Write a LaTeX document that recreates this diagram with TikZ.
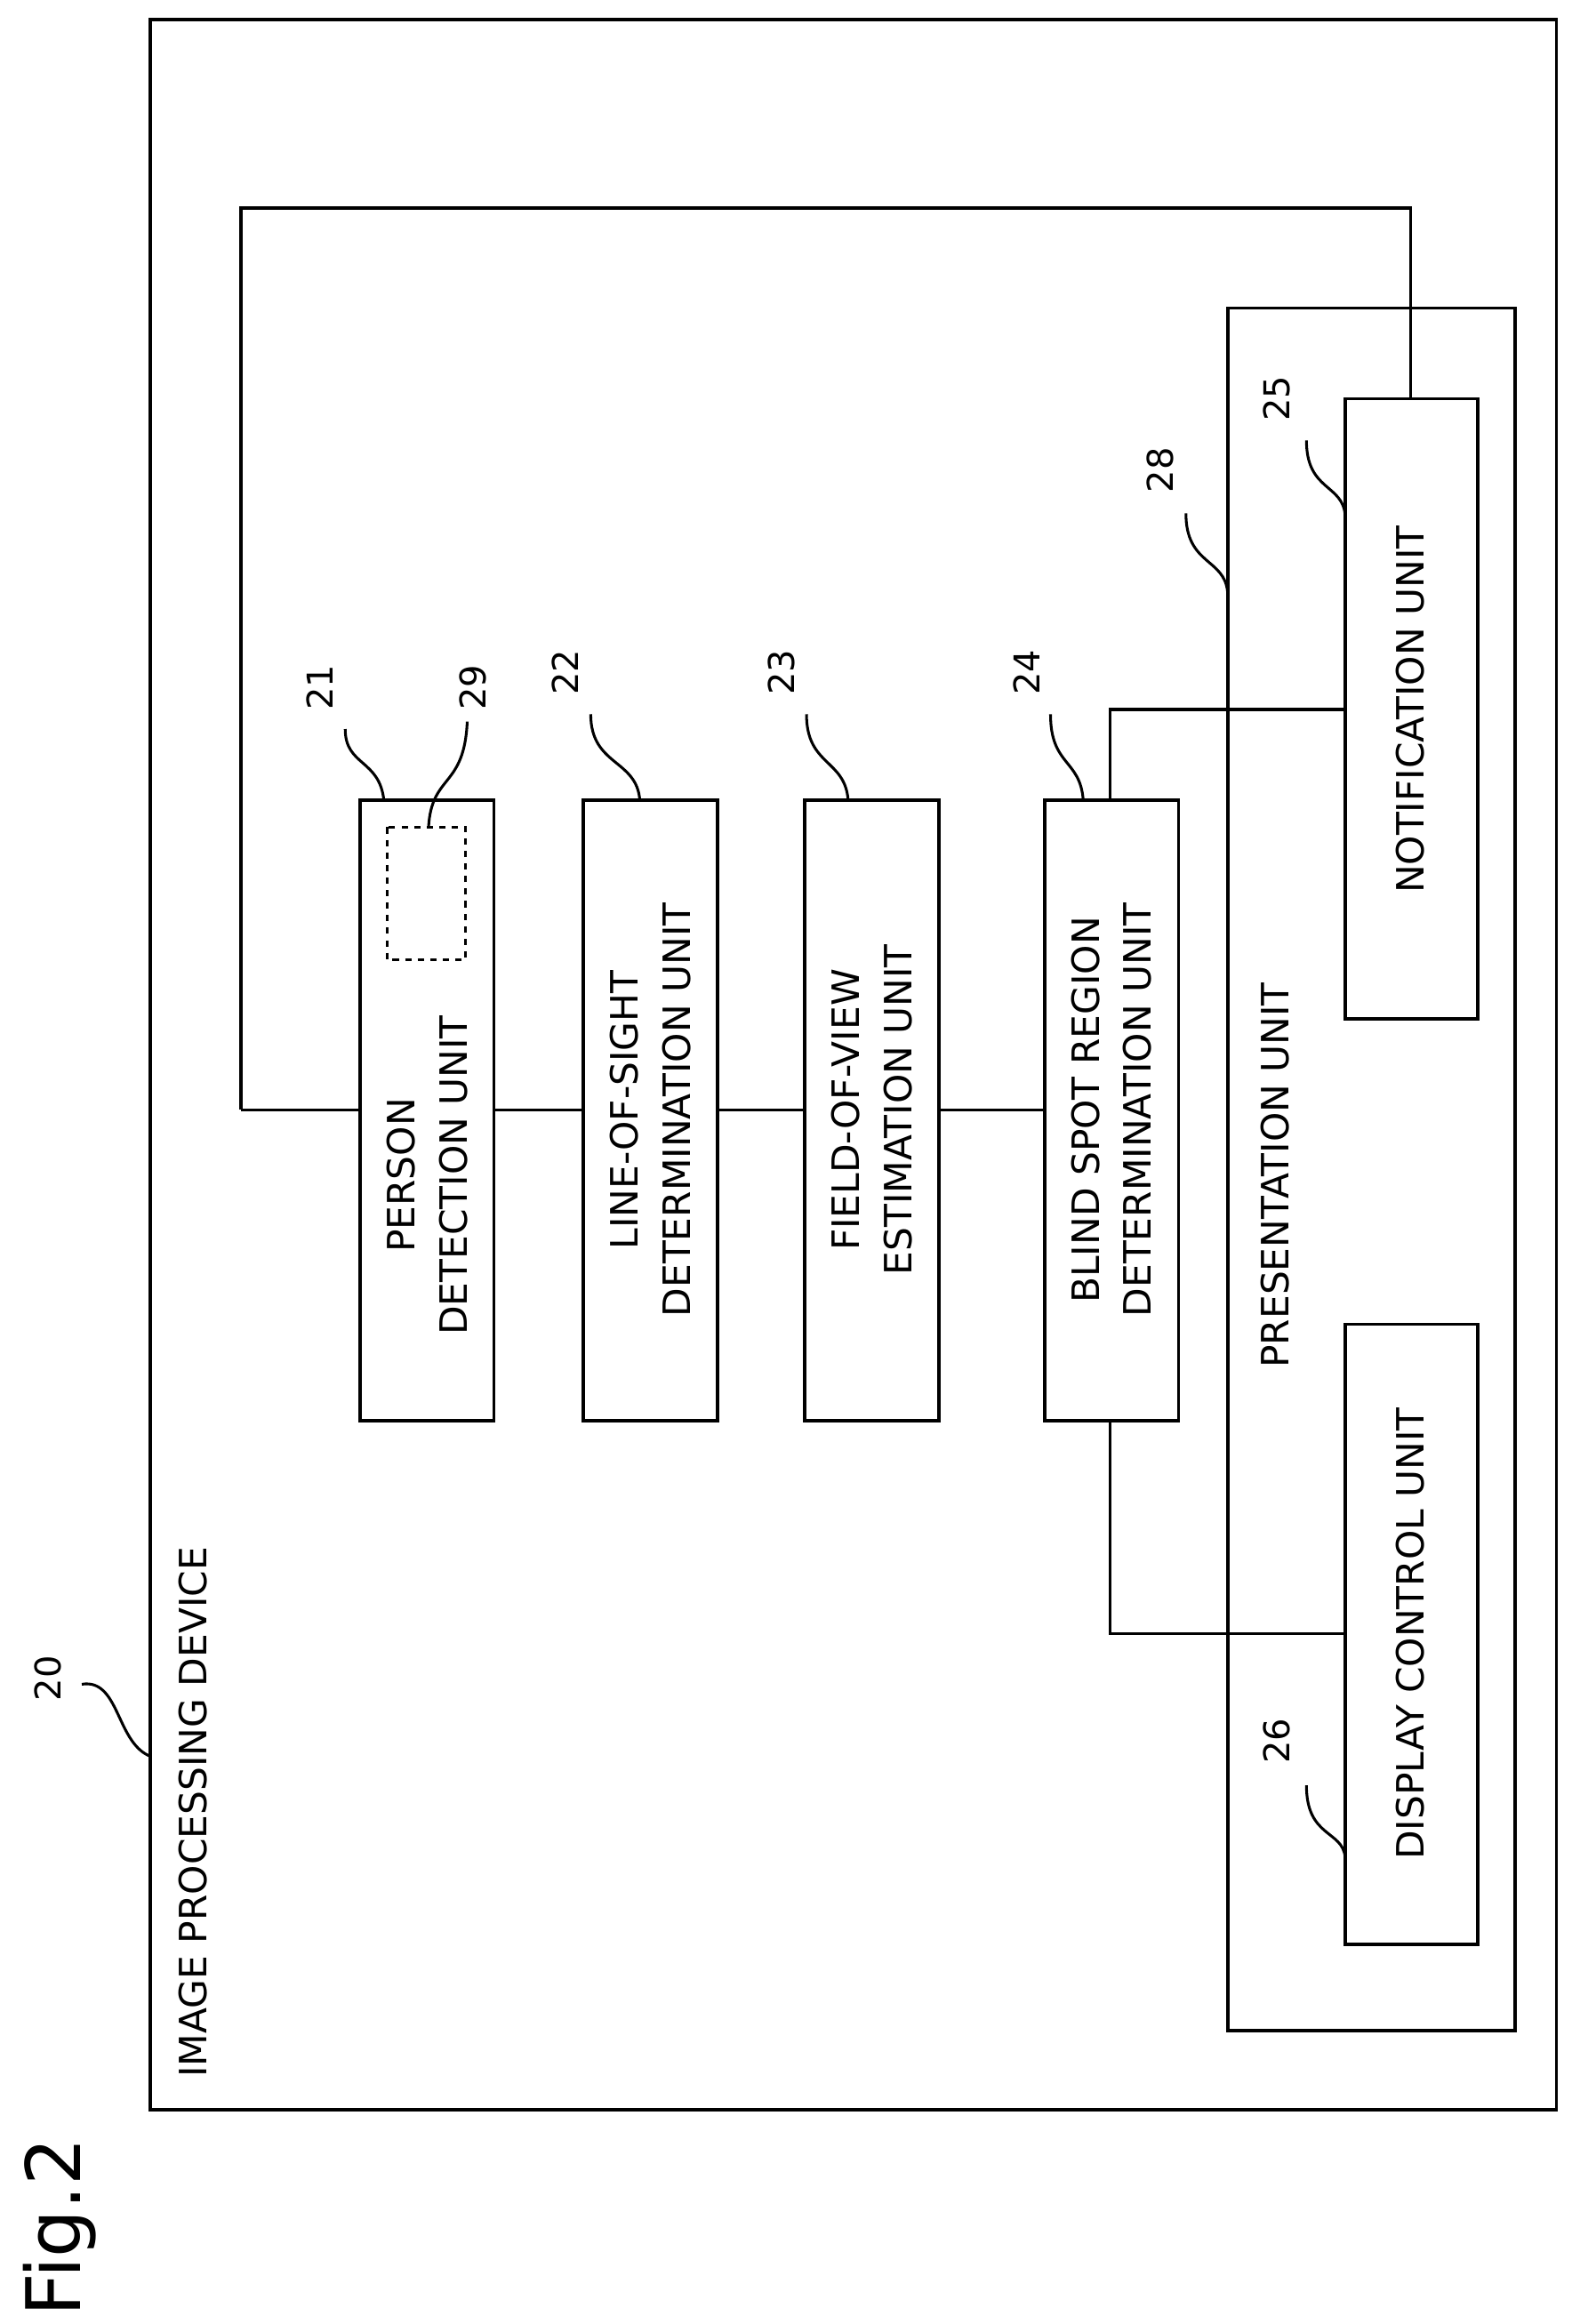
\documentclass[tikz,border=0pt]{standalone}
\usepackage{fontspec}
\setmainfont{DejaVu Sans}
\begin{document}
\begin{tikzpicture}[x=0.025cm,y=-0.025cm,line width=1.6pt,
  box/.style={draw,line width=1.6pt},
  lbl/.style={rotate=90,font=\fontsize{18}{25}\selectfont,align=center},
  num/.style={rotate=90,font=\fontsize{17}{20}\selectfont},
  lead/.style={line width=1.3pt}]
\useasboundingbox (0,0) rectangle (1056,1562);
\node[rotate=90,font=\fontsize{36}{40}\selectfont] (fig) at (40,1497) {Fig.2};
\draw[box] (101,13) rectangle (1046,1418);
\node[lbl,anchor=west] (ipd) at (130,1402) {IMAGE PROCESSING DEVICE};
\node[num] (n20) at (32,1128) {20};
\draw[lead] (55,1132) .. controls (80,1128) and (78,1170) .. (100,1180);
% boxes
\draw[box] (242,538) rectangle (332,955);
\node[lbl] (t21) at (287,790) {PERSON\\DETECTION UNIT};
\draw[line width=1.2pt,dashed] (260,556) rectangle (313,645);
\draw[box] (392,538) rectangle (482,955);
\node[lbl] (t22) at (437,746) {LINE-OF-SIGHT\\DETERMINATION UNIT};
\draw[box] (541,538) rectangle (631,955);
\node[lbl] (t23) at (586,746) {FIELD-OF-VIEW\\ESTIMATION UNIT};
\draw[box] (702,538) rectangle (792,955);
\node[lbl] (t24) at (747,746) {BLIND SPOT REGION\\DETERMINATION UNIT};
\draw[box] (825,207) rectangle (1018,1365);
\node[lbl] (t28) at (857,790) {PRESENTATION UNIT};
\draw[box] (904,268) rectangle (993,685);
\node[lbl] (t25) at (948,477) {NOTIFICATION UNIT};
\draw[box] (904,890) rectangle (993,1307);
\node[lbl] (t26) at (948,1098) {DISPLAY CONTROL UNIT};
% connectors
\draw (162,746) -- (242,746) (332,746) -- (392,746) (482,746) -- (541,746) (631,746) -- (702,746);
\draw (162,746) -- (162,140) -- (948,140) -- (948,268);
\draw (746,538) -- (746,477) -- (904,477);
\draw (746,955) -- (746,1098) -- (904,1098);
% numbers
\node[num] at (215,462) {21};
\draw[lead] (232,490) .. controls (232,515) and (255,510) .. (258,538);
\node[num] at (318,462) {29};
\draw[lead] (314,485) .. controls (312,530) and (290,520) .. (288,556);
\node[num] at (380,452) {22};
\draw[lead] (397,480) .. controls (397,515) and (428,510) .. (430,538);
\node[num] at (525,452) {23};
\draw[lead] (542,480) .. controls (542,515) and (568,510) .. (570,538);
\node[num] at (690,452) {24};
\draw[lead] (706,480) .. controls (706,515) and (726,510) .. (728,538);
\node[num] at (780,316) {28};
\draw[lead] (797,345) .. controls (797,380) and (823,375) .. (825,398);
\node[num] at (858,268) {25};
\draw[lead] (878,296) .. controls (878,330) and (902,325) .. (904,346);
\node[num] at (858,1170) {26};
\draw[lead] (878,1200) .. controls (878,1235) and (902,1230) .. (904,1248);
\end{tikzpicture}
\end{document}
